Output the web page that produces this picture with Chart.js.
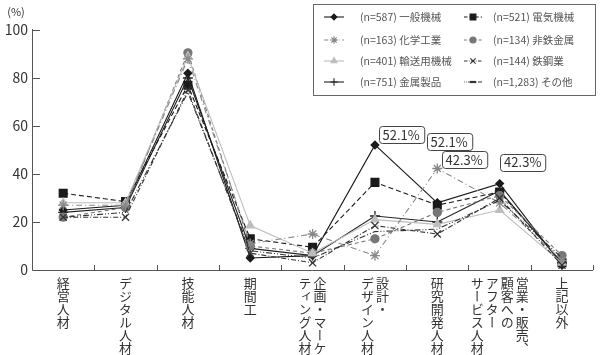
<!DOCTYPE html>
<html lang="ja">
<head>
<meta charset="utf-8">
<script src="https://cdn.jsdelivr.net/npm/chart.js@4"></script>
<style>
  body { margin: 0; background: #fff; }
  #wrap { position: relative; width: 600px; height: 355px; }
  .xlab {
    position: absolute;
    writing-mode: vertical-rl;
    font-family: "Noto Sans CJK JP", sans-serif;
    font-size: 13px;
    line-height: 15px;
    color: #333;
    white-space: nowrap;
  }
</style>
</head>
<body>
<div id="wrap"><canvas id="chart" width="600" height="355"></canvas></div>
<script>
// categories (columns of the vertical label split by \n)
const categories = ['経営人材', 'デジタル人材', '技能人材', '期間工', '企画・マーケ\nティング人材',
  '設計・\nデザイン人材', '研究開発人材', '営業・販売、\n顧客への\nアフター\nサービス人材', '上記以外'];
const yTicks = [0, 20, 40, 60, 80, 100];

const seriesNames = ['(n=587) 一般機械', '(n=521) 電気機械', '(n=163) 化学工業', '(n=134) 非鉄金属',
  '(n=401) 輸送用機械', '(n=144) 鉄鋼業', '(n=751) 金属製品', '(n=1,283) その他'];
const ippanKikai  = [25, 27, 82, 5, 6, 52.1, 28, 36, 2];
const denkiKikai  = [32, 28.5, 77, 13, 9.5, 36.5, 27, 32.5, 3];
const kagakuKogyo = [27, 27, 88, 11, 15, 6, 42.3, 28, 4];
const hitetsu     = [22, 26, 90.5, 10, 7, 13, 24, 31, 6];
const yusoKikai   = [28, 28, 89, 18.5, 7, 21, 19, 25, 3];
const tekko       = [22, 22, 75, 7, 3, 18.5, 15, 30, 2];
const kinzoku     = [24, 26, 80, 9, 6, 22.5, 20, 33, 3];
const sonota      = [22, 24, 74, 8, 5, 16, 17, 29, 5];

const calloutTexts = ['52.1%', '52.1%', '42.3%', '42.3%'];

const FONT = '"Noto Sans CJK JP", sans-serif';

function ds(i, data, color, dash, style, r) {
  return {
    label: seriesNames[i],
    data: data,
    borderColor: color,
    backgroundColor: color,
    borderWidth: 1.1,
    borderDash: dash,
    pointStyle: style,
    pointRadius: r,
    pointBorderWidth: 1.3,
    pointBorderColor: color,
    pointBackgroundColor: color,
    tension: 0
  };
}

const datasets = [
  ds(5, tekko, '#333', [5, 2, 1, 2], 'crossRot', 5),
  ds(7, sonota, '#333', [1, 2, 1, 2, 6, 2], 'line', 0),
  ds(2, kagakuKogyo, '#888', [6, 3, 1, 3], 'star', 5),
  ds(4, yusoKikai, '#bdbdbd', [], 'triangle', 4.5),
  ds(3, hitetsu, '#777', [4, 3], 'circle', 4),
  ds(6, kinzoku, '#222', [], 'cross', 5),
  ds(1, denkiKikai, '#1a1a1a', [5, 3], 'rect', 5.5),
  ds(0, ippanKikai, '#1a1a1a', [], 'rectRot', 3.8)
];

const axesPlugin = {
  id: 'axesPlugin',
  beforeDatasetsDraw(chart) {
    const ctx = chart.ctx, a = chart.chartArea;
    const x = chart.scales.x, y = chart.scales.y;
    ctx.save();
    ctx.strokeStyle = '#555';
    ctx.lineWidth = 1;
    ctx.beginPath();
    ctx.moveTo(a.left + 0.5, a.top - 1);
    ctx.lineTo(a.left + 0.5, a.bottom + 0.5);
    ctx.lineTo(a.right, a.bottom + 0.5);
    // inward y ticks
    yTicks.forEach(v => {
      if (v === 0) return;
      const py = Math.round(y.getPixelForValue(v)) + 0.5;
      ctx.moveTo(a.left, py);
      ctx.lineTo(a.left + 8, py);
    });
    // inward x ticks at category boundaries
    for (let i = 1; i <= categories.length; i++) {
      const px = Math.round(x.getPixelForValue(i - 0.5)) + 0.5;
      ctx.moveTo(px, a.bottom);
      ctx.lineTo(px, a.bottom - 5);
    }
    ctx.stroke();

    ctx.fillStyle = '#333';
    ctx.font = '14px ' + FONT;
    ctx.textAlign = 'right';
    ctx.textBaseline = 'middle';
    yTicks.forEach(v => ctx.fillText(String(v), 28, y.getPixelForValue(v)));
    ctx.font = '11px ' + FONT;
    ctx.textAlign = 'center';
    ctx.fillText('(%)', 16, 12);
    ctx.restore();
  },
  afterDraw(chart) {
    const ctx = chart.ctx;
    const x = chart.scales.x, y = chart.scales.y;
    ctx.save();
    // callout boxes
    const calloutPos = [[5.42, 56.5], [6.19, 53.7], [6.43, 46], [7.37, 45]];
    ctx.font = '13px ' + FONT;
    ctx.textAlign = 'center';
    ctx.textBaseline = 'middle';
    calloutTexts.forEach((t, i) => {
      const cx = x.getPixelForValue(calloutPos[i][0]);
      const cy = y.getPixelForValue(calloutPos[i][1]);
      const w = ctx.measureText(t).width + 8, h = 17;
      ctx.beginPath();
      ctx.roundRect(Math.round(cx - w / 2) + 0.5, Math.round(cy - h / 2) + 0.5, w, h, 3);
      ctx.fillStyle = '#fff';
      ctx.fill();
      ctx.strokeStyle = '#444';
      ctx.lineWidth = 1;
      ctx.stroke();
      ctx.fillStyle = '#333';
      ctx.fillText(t, cx, cy + 0.5);
    });

    // legend box, two columns
    ctx.strokeStyle = '#666';
    ctx.lineWidth = 1;
    ctx.strokeRect(313.5, 4.5, 282, 91);
    const rows = [17, 40, 61, 82];
    const cols = [{ l: 324, m: 334, r: 344, t: 360 }, { l: 464, m: 473, r: 482, t: 493 }];
    ctx.font = '10.5px ' + FONT;
    ctx.textAlign = 'left';
    seriesNames.forEach((name, i) => {
      const d = datasets.find(s => s.label === name);
      const c = cols[i % 2], ry = rows[Math.floor(i / 2)];
      ctx.strokeStyle = d.borderColor;
      ctx.fillStyle = d.backgroundColor;
      ctx.lineWidth = d.borderWidth;
      ctx.setLineDash(d.borderDash.map(v => v * 0.7));
      ctx.beginPath();
      ctx.moveTo(c.l, ry);
      ctx.lineTo(c.r, ry);
      ctx.stroke();
      ctx.setLineDash([]);
      ctx.lineWidth = 1.1;
      let r = d.pointRadius * 0.75;
      if (d.pointStyle === 'line') { r = 3; ctx.lineWidth = 2.2; }
      Chart.helpers.drawPoint(ctx, { pointStyle: d.pointStyle, radius: r, rotation: 0, borderWidth: ctx.lineWidth }, c.m, ry);
      ctx.fillStyle = '#555';
      ctx.fillText(name, c.t, ry + 0.5);
    });
    ctx.restore();
  }
};

const chart = new Chart(document.getElementById('chart'), {
  type: 'line',
  data: { labels: categories, datasets: datasets },
  options: {
    responsive: false,
    animation: false,
    layout: { padding: { left: 32, right: 3, top: 30, bottom: 85 } },
    plugins: { legend: { display: false }, tooltip: { enabled: false } },
    scales: {
      x: { display: false, offset: true },
      y: { display: false, min: 0, max: 100 }
    }
  },
  plugins: [axesPlugin]
});

// vertical category labels as real HTML text
const wrap = document.getElementById('wrap');
categories.forEach((c, i) => {
  const el = document.createElement('div');
  el.className = 'xlab';
  el.innerHTML = c.split('\n').join('<br>');
  wrap.appendChild(el);
  const px = chart.scales.x.getPixelForValue(i);
  el.style.left = (px - el.offsetWidth / 2) + 'px';
  el.style.top = '277px';
});
</script>
</body>
</html>
